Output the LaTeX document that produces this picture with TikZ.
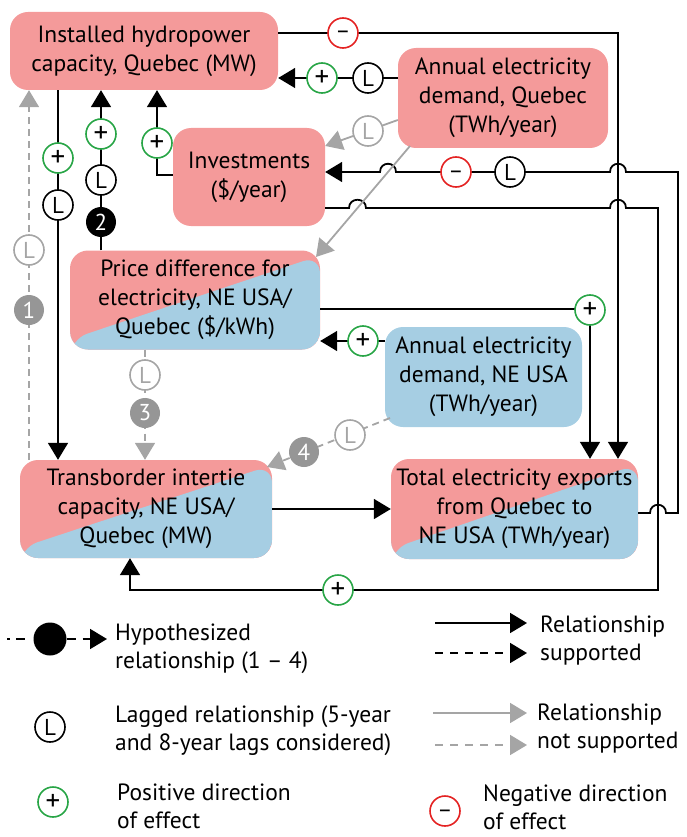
\documentclass[tikz,border=0pt]{standalone}
\usepackage{fontspec}
\setmainfont{PT Sans}
\usetikzlibrary{arrows.meta,calc,shapes.geometric}
\definecolor{qpink}{RGB}{244,154,154}
\definecolor{qblue}{RGB}{166,206,227}
\definecolor{pgreen}{RGB}{40,165,70}
\definecolor{nred}{RGB}{228,35,35}
\definecolor{lgray}{RGB}{165,165,165}
\definecolor{dgray}{RGB}{150,150,150}
\newcommand{\negsym}{\raisebox{-6pt}[0pt][0pt]{–}}
\begin{document}
\begin{tikzpicture}[x=1pt,y=-1pt,
  box/.style={rounded corners=18pt, inner sep=0pt, align=center, font=\fontsize{23.5}{29}\selectfont, text=black},
  pinkbox/.style={box, fill=qpink},
  bluebox/.style={box, fill=qblue},
  splitbox/.style={box, fill=qpink, path picture={\fill[qblue] ([yshift=10pt]path picture bounding box.south west) -- ([yshift=-5pt]path picture bounding box.north east) -- (path picture bounding box.south east) -- (path picture bounding box.south west) -- cycle;}},
  conn/.style={line width=1.8pt, draw=black},
  gconn/.style={line width=1.8pt, draw=lgray},
  dsh/.style={dash pattern=on 7pt off 5pt},
  ldsh/.style={dash pattern=on 8pt off 7pt},
  arr/.style={-{Triangle[length=17pt,width=20pt]}},
  symb/.style={circle, draw, line width=1.6pt, fill=white, minimum size=30pt, inner sep=0pt, font=\fontsize{23}{23}\selectfont},
  pmark/.style={symb, draw=pgreen, font=\fontsize{29}{29}\selectfont},
  nmark/.style={symb, draw=nred},
  lmark/.style={symb, draw=black},
  glmark/.style={symb, draw=lgray, text=lgray},
  hmark/.style={circle, fill=dgray, minimum size=30pt, inner sep=0pt, text=white, font=\fontsize{23}{23}\selectfont},
  leg/.style={anchor=base west, align=left, inner sep=0pt, font=\fontsize{23.5}{28}\selectfont}
]
\useasboundingbox (0,0) rectangle (687,837);

% boxes
\node[pinkbox, minimum width=268pt, minimum height=78pt] (hydro) at (144,51) {Installed hydropower\\capacity, Quebec (MW)};
\node[pinkbox, minimum width=210pt, minimum height=100pt] (demQ) at (503,98) {Annual electricity\\demand, Quebec\\(TWh/year)};
\node[pinkbox, minimum width=152pt, minimum height=98pt] (inv) at (249,177) {Investments\\(\$/year)};
\node[splitbox, minimum width=250pt, minimum height=99pt] (price) at (195,300) {Price difference for\\electricity, NE USA/\\Quebec (\$/kWh)};
\node[bluebox, minimum width=197pt, minimum height=100pt] (demNE) at (483.5,377) {Annual electricity\\demand, NE USA\\(TWh/year)};
\node[splitbox, minimum width=252pt, minimum height=98pt] (trans) at (146,509) {Transborder intertie\\capacity, NE USA/\\Quebec (MW)};
\node[splitbox, minimum width=247pt, minimum height=100pt] (exp) at (514.5,509) {Total electricity exports\\from Quebec to\\NE USA (TWh/year)};

% black connectors
\draw[conn,arr] (hydro.east |- 0,33) -- (618,33) -- (exp.north -| 618,0);
\draw[conn,arr] (demQ.west |- 0,78) -- (hydro.east |- 0,78);
\draw[conn,arr] (exp.east |- 0,513) -- (650,513) .. controls (650,502) and (666,502) .. (666,513) -- (678,513) -- (678,172) -- (626,172) .. controls (626,161) and (610,161) .. (610,172) -- (396,172) .. controls (396,161) and (380,161) .. (380,172) -- (inv.east |- 0,172);
\draw[conn,arr] (inv.east |- 0,208) -- (349,208) .. controls (349,197) and (366,197) .. (366,208) -- (610,208) .. controls (610,197) and (626,197) .. (626,208) -- (658,208) -- (658,590) -- (130,590) -- (trans.south -| 130,0);
\draw[conn,arr] (inv.west |- 0,175) -- (157,175) -- (hydro.south -| 157,0);
\draw[conn,arr] (hydro.south -| 58,0) -- (trans.north -| 58,0);
\draw[conn,arr] (price.north -| 101,0) -- (hydro.south -| 101,0);
\draw[conn,arr] (price.east |- 0,309) -- (590,309) -- (exp.north -| 590,0);
\draw[conn,arr] (demNE.west |- 0,341) -- (price.east |- 0,341);
\draw[conn,arr] (trans.east) -- (exp.west);

% gray connectors
\draw[gconn,arr] (demQ.west |- 0,120) -- (inv.east |- 0,146);
\draw[gconn,arr] (410,146) -- (316,257);
\draw[gconn,dsh,arr] (trans.north -| 29,0) -- (hydro.south -| 29,0);
\draw[gconn,dsh,arr] (price.south -| 145,0) -- (trans.north -| 145,0);
\draw[gconn,dsh,arr] (390,418) -- (267,467);

% markers
\node[nmark] (m1) at (343,33) {\negsym};
\node[lmark] (m2) at (368,78) {L};
\node[pmark] (m3) at (322,78) {+};
\node[glmark] (m4) at (368,131) {L};
\node[lmark] (m5) at (510,172) {L};
\node[nmark] (m6) at (456,172) {\negsym};
\node[pmark] (m7) at (338,590) {+};
\node[pmark] (m8) at (157,143) {+};
\node[pmark] (m9) at (58,158) {+};
\node[lmark] (m10) at (58,205) {L};
\node[pmark] (m11) at (101,134) {+};
\node[lmark] (m12) at (101,180) {L};
\node[hmark, fill=black] (h2) at (101,222) {2};
\node[glmark] (m13) at (29,250) {L};
\node[hmark] (h1) at (29,310) {1};
\node[glmark] (m14) at (145,375) {L};
\node[hmark] (h3) at (145,413) {3};
\node[glmark] (m15) at (350,435) {L};
\node[hmark] (h4) at (304,452) {4};
\node[pmark] (m16) at (590,310) {+};
\node[pmark] (m17) at (363,341) {+};

% legend
\node[circle, fill=black, minimum size=33pt, inner sep=0pt] (ldot) at (50,639) {};
\coordinate (d0) at (7,639);
\coordinate (d1) at (107,639);
\draw[conn,dash pattern=on 3pt off 6pt on 9pt off 20pt] (d0) -- (ldot.west);
\draw[conn,dash pattern=on 9pt off 7pt,arr] (ldot.east) -- (d1);
\node[leg] (t1) at (115,668) {Hypothesized\\relationship (1 – 4)};
\node[lmark] (ll) at (50,727) {L};
\node[leg] (t2) at (115,750) {Lagged relationship (5-year\\and 8-year lags considered)};
\node[pmark] (lp) at (53,802) {+};
\node[leg] (t3) at (117,828) {Positive direction\\of effect};
\node[nmark] (ln) at (445,811) {\negsym};
\node[leg] (t4) at (483,829) {Negative direction\\of effect};
\coordinate (a1) at (435,623); \coordinate (b1) at (527,623);
\coordinate (a2) at (435,653); \coordinate (b2) at (527,653);
\coordinate (a3) at (433,713); \coordinate (b3) at (527,713);
\coordinate (a4) at (435,745); \coordinate (b4) at (527,745);
\draw[conn,arr] (a1) -- (b1);
\draw[conn,ldsh,arr] (a2) -- (b2);
\draw[gconn,arr] (a3) -- (b3);
\draw[gconn,ldsh,arr] (a4) -- (b4);
\node[leg] (t5) at (540,660) {Relationship\\supported};
\node[leg] (t6) at (537,748) {Relationship\\not supported};
\end{tikzpicture}
\end{document}
